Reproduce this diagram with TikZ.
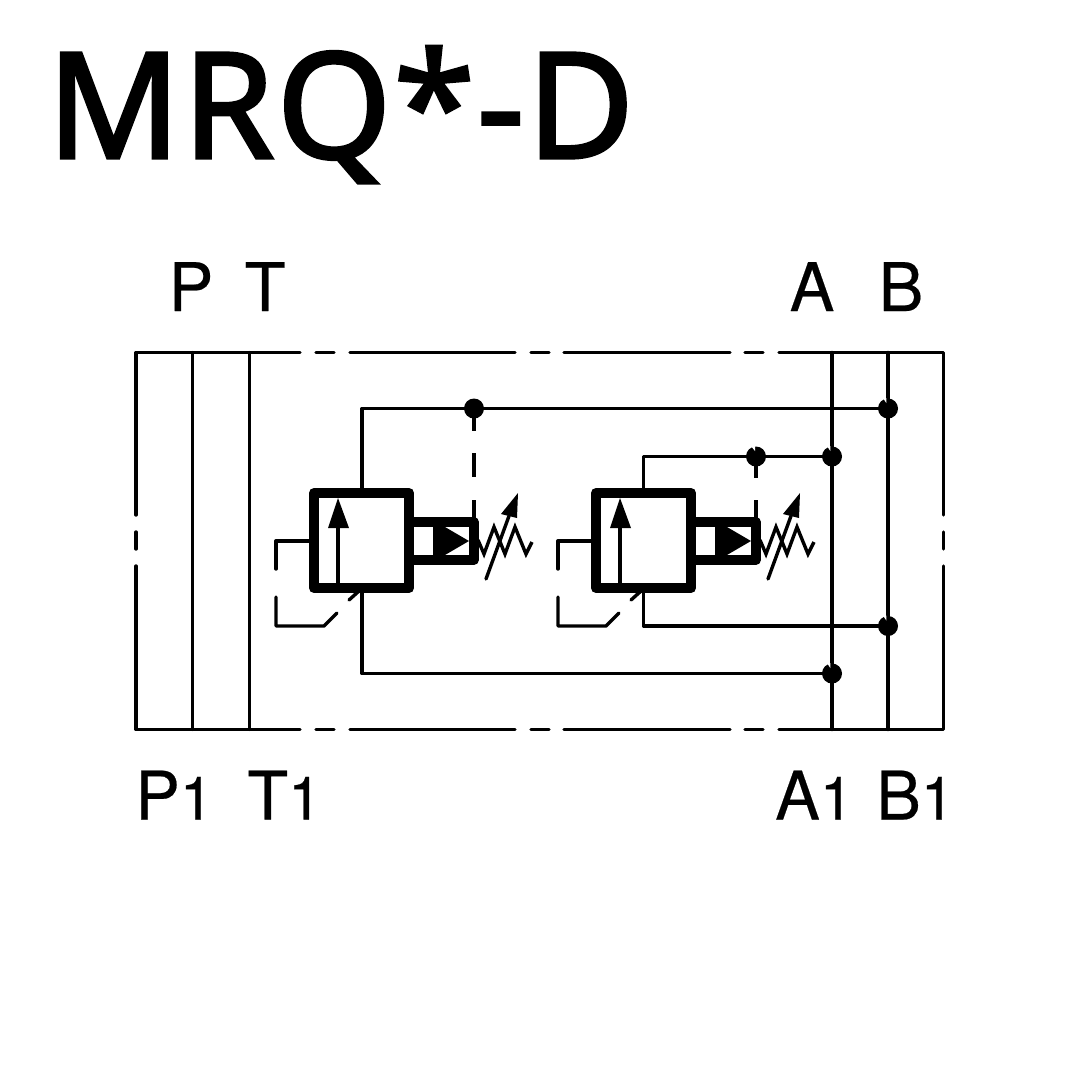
\documentclass[tikz,border=0pt]{standalone}
\usepackage{fontspec}
\setmainfont{TeX Gyre Heros}
\newfontfamily\titlefont[RawFeature={embolden=2.2},LetterSpace=1.6]{Noto Sans}
\newfontfamily\labelfont[RawFeature={embolden=0.3}]{TeX Gyre Heros}
\newcommand{\idx}[1]{{\fontsize{60}{60}\selectfont #1}}
\tikzset{
  pipe/.style={line width=3.4pt,line cap=round,line join=round,black},
  heavy/.style={line width=10pt,line join=round,black},
  dot/.style={circle,fill=black,draw=none,minimum size=20pt,inner sep=0pt},
  nick/.style={fill=white,draw=none},
  portlabel/.style={inner sep=0pt,anchor=base,font=\labelfont\fontsize{67}{67}\selectfont},
  idxlabel/.style={inner sep=0pt,anchor=base west,font=\labelfont\fontsize{67}{67}\selectfont},
  titlelabel/.style={inner sep=0pt,anchor=base west,font=\titlefont\fontsize{147}{147}\selectfont},
  valvepart/.pic={
    % body
    \draw[heavy] (314,493) rectangle (409,588);
    \draw[line width=9.5pt,line join=round] (409,522) rectangle (474,560);
    \fill (433,525) rectangle (445,557);
    \fill (445,527) -- (469,541) -- (445,555) -- cycle;
    % internal arrow
    \draw[pipe,line cap=butt] (338,583) -- (338,525);
    \fill (338,498) -- (349,528) -- (328,528) -- cycle;
    % spring
    \draw[pipe,line cap=butt,line join=miter] (478,540) -- (484,554) -- (494,527) -- (505,554) -- (515,527) -- (526,554) -- (532,542);
    % adjustment arrow
    \draw[pipe] (486,579) -- (509,516);
    \fill (518,493) -- (517,518) -- (501,514) -- cycle;
    % drain
    \draw[pipe] (310,541) -- (276,541) -- (276,569);
    \draw[pipe] (276,597) -- (276,626) -- (324,626) -- (337,613);
    \draw[pipe] (349,600) -- (359,591);
  }
}
\begin{document}
\begin{tikzpicture}[x=1pt,y=-1pt]
\useasboundingbox (0,0) rectangle (1080,1080);
\fill[white] (0,0) rectangle (1080,1080);

\node[titlelabel] (title) at (47,158) {MRQ*-D};

\node[portlabel] (lP) at (191,311) {P};
\node[portlabel] (lT) at (265,311) {T};
\node[portlabel] (lA) at (812,311) {A};
\node[portlabel] (lB) at (901,311) {B};
\node[idxlabel] (lP1) at (135,819.5) {P\idx{1}};
\node[idxlabel] (lT1) at (247,819.5) {T\idx{1}};
\node[idxlabel] (lA1) at (775,819.5) {A\idx{1}};
\node[idxlabel] (lB1) at (876,819.5) {B\idx{1}};

% frame
\draw[pipe] (136,515) -- (136,352.5) -- (300,352.5);
\draw[pipe] (316,352.5) -- (334,352.5) (350,352.5) -- (515,352.5) (531,352.5) -- (549,352.5) (564,352.5) -- (730,352.5) (745,352.5) -- (763,352.5);
\draw[pipe] (779,352.5) -- (943.5,352.5) -- (943.5,515);
\draw[pipe] (136,566) -- (136,729.5) -- (300,729.5);
\draw[pipe] (316,729.5) -- (334,729.5) (350,729.5) -- (515,729.5) (531,729.5) -- (549,729.5) (564,729.5) -- (730,729.5) (745,729.5) -- (763,729.5);
\draw[pipe] (779,729.5) -- (943.5,729.5) -- (943.5,566);
\draw[pipe] (136,532) -- (136,549) (943.5,532) -- (943.5,549);

% through ports
\draw[pipe] (192.5,352.5) -- (192.5,729.5);
\draw[pipe] (249.5,352.5) -- (249.5,729.5);
\draw[pipe] (832,352.5) -- (832,729.5);
\draw[pipe] (888,352.5) -- (888,729.5);

% internal lines
\coordinate (c1) at (362,408.5);
\coordinate (c2) at (362,490);
\coordinate (c3) at (643.5,456.5);
\coordinate (c4) at (643.5,490);
\coordinate (c5) at (362,592);
\coordinate (c6) at (362,673.5);
\coordinate (c7) at (643.5,592);
\coordinate (c8) at (643.5,626);
\coordinate (e2) at (888,408.5);
\coordinate (e4) at (832,456.5);
\coordinate (e5) at (888,626);
\coordinate (e6) at (832,673.5);
\draw[pipe] (c2) -- (c1) -- (e2);
\draw[pipe] (c4) -- (c3) -- (e4);
\draw[pipe] (c5) -- (c6) -- (e6);
\draw[pipe] (c7) -- (c8) -- (e5);

% junctions
\node[dot] (j1) at (474,408.5) {};
\node[dot] (j2) at (888,408.5) {};
\node[dot] (j3) at (756,456.5) {};
\node[dot] (j4) at (832,456.5) {};
\node[dot] (j5) at (888,626) {};
\node[dot] (j6) at (832,673.5) {};
% small nicks in the junction outlines
\fill[nick] (883,398) -- (886.3,398) -- (886.3,403) -- cycle;
\fill[nick] (751,446) -- (755,446) -- (755,451) -- cycle;
\fill[nick] (827,446) -- (830.3,446) -- (830.3,451) -- cycle;
\fill[nick] (883,615.5) -- (886.3,615.5) -- (886.3,620.5) -- cycle;
\fill[nick] (827,663) -- (830.3,663) -- (830.3,668) -- cycle;

% pilot dashes
\draw[pipe,line cap=butt] (474,408) -- (474,431) (474,453) -- (474,477) (474,500) -- (474,518);
\draw[pipe,line cap=butt] (756,456) -- (756,478) (756,500) -- (756,518);

% valves
\pic at (0,0) {valvepart};
\pic at (282,0) {valvepart};
\end{tikzpicture}
\end{document}
